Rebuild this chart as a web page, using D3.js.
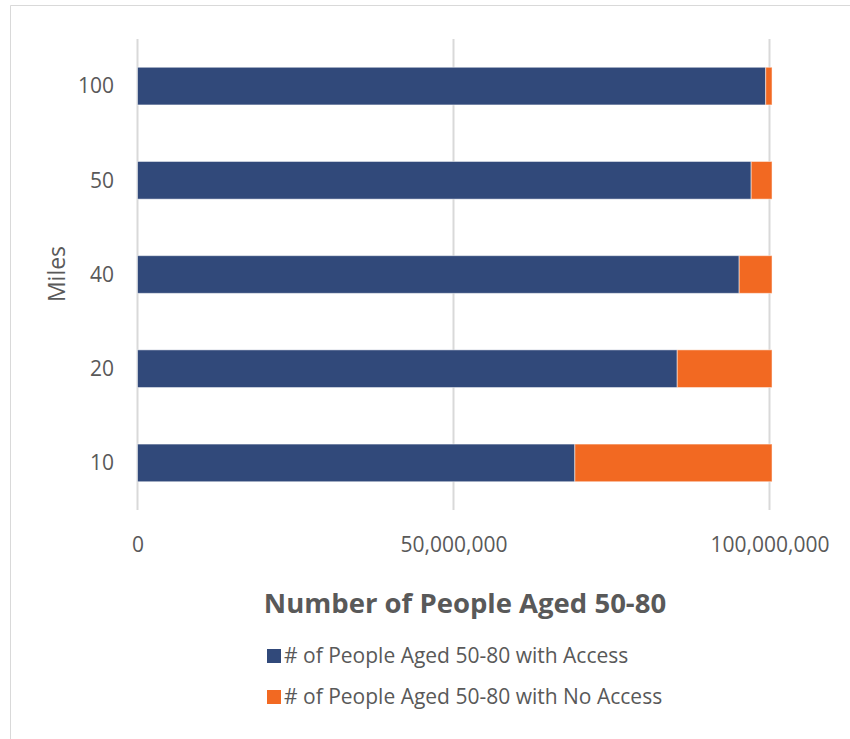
<!DOCTYPE html>
<html><head><meta charset="utf-8">
<script src="https://cdn.jsdelivr.net/npm/d3@7"></script>
<style>body{margin:0;background:#fff}svg{display:block}text{font-family:"Open Sans",Lato,sans-serif}</style>
</head><body><svg id="c" width="850" height="739"></svg>
<script>
const categories = ["100","50","40","20","10"];
const withAccess = [99400000, 97100000, 95200000, 85400000, 69200000];
const noAccess = [1000000, 3300000, 5200000, 15000000, 31200000];
const seriesNames = ["# of People Aged 50-80 with Access", "# of People Aged 50-80 with No Access"];
const tickValues = [0, 50000000, 100000000];
const colors = ["#31497a", "#f26922"];

const svg = d3.select("#c");
svg.append("path").attr("d","M10.5,739 V5.5 H850").attr("fill","none").attr("stroke","#d9d9d9").attr("stroke-width",1);

const x = d3.scaleLinear().domain([0, 100000000]).range([137.5, 769.5]);
const y = d3.scaleBand().domain(categories).range([39, 510]).paddingInner(0.6).paddingOuter(0.3);

// gridlines
svg.append("g").selectAll("line").data(tickValues).join("line")
  .attr("x1", d=>x(d)).attr("x2", d=>x(d)).attr("y1", 39).attr("y2", 510)
  .attr("stroke", "#d9d9d9").attr("stroke-width", 2);

const rows = categories.map((c,i)=>({c, a: withAccess[i], n: noAccess[i]}));
const stack = d3.stack().keys(["a","n"])(rows);
svg.append("g").selectAll("g").data(stack).join("g").attr("fill",(d,i)=>colors[i])
  .selectAll("rect").data(d=>d).join("rect")
  .attr("x", d=>x(d[0])).attr("width", d=>x(d[1])-x(d[0]))
  .attr("y", d=>y(d.data.c)).attr("height", y.bandwidth())
  .attr("stroke","#fff").attr("stroke-opacity",0.5).attr("stroke-width",1);

// y axis labels
const yAxis = d3.axisLeft(y).tickSize(0).tickPadding(0);
const gy = svg.append("g").attr("transform","translate(114,0)").call(yAxis);
gy.select(".domain").remove();
gy.selectAll("text").attr("font-size",21).attr("fill","#595959").style("font-family","'Open Sans', sans-serif").attr("dy","0.35em");

// x axis labels
const xAxis = d3.axisBottom(x).tickValues(tickValues).tickSize(0).tickFormat(d3.format(","));
const gx = svg.append("g").attr("transform","translate(0,545)").call(xAxis);
gx.select(".domain").remove();
gx.selectAll("text").attr("font-size",21).attr("fill","#595959").style("font-family","'Open Sans', sans-serif").attr("y",0).attr("dy","0.35em");

svg.append("text").attr("transform","translate(57,274) rotate(-90)").attr("text-anchor","middle")
  .attr("dy","0.35em").attr("font-size",23).attr("fill","#595959").text("Miles");

svg.append("text").attr("x",465).attr("y",603).attr("dy","0.35em").attr("text-anchor","middle")
  .attr("font-size",27.5).attr("font-weight","bold").attr("fill","#595959").text("Number of People Aged 50-80");

const lg = svg.append("g").selectAll("g").data(seriesNames).join("g")
  .attr("transform",(d,i)=>`translate(267,${649+i*41})`);
lg.append("rect").attr("width",14).attr("height",14).attr("fill",(d,i)=>colors[i]);
lg.append("text").attr("x",17).attr("y",7).attr("dy","0.35em").attr("font-size",21).attr("fill","#595959").text(d=>d);
</script></body></html>
